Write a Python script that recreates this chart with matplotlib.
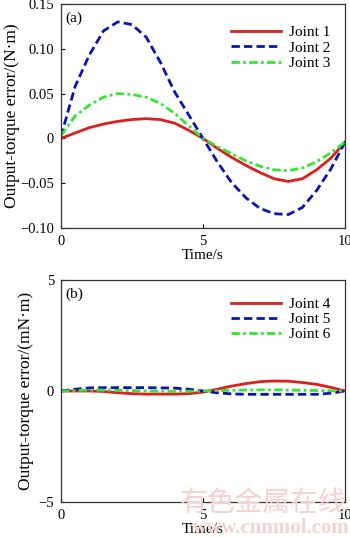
import matplotlib
matplotlib.use("Agg")
import matplotlib.pyplot as plt

plt.rcParams['font.family'] = ['Liberation Serif', 'DejaVu Serif']
plt.rcParams['font.size'] = 10.5
plt.rcParams['axes.unicode_minus'] = True

t = [0, 0.5, 1, 1.5, 2, 2.5, 3, 3.5, 4, 4.5, 5, 5.5, 6, 6.5, 7, 7.5, 8, 8.5, 9, 9.5, 10]

# (a) joints 1-3, N·m
joint1 = [0.0, 0.006, 0.012, 0.016, 0.019, 0.021, 0.022, 0.021, 0.017, 0.009, 0.0,
          -0.011, -0.021, -0.030, -0.038, -0.045, -0.048, -0.045, -0.035, -0.022, -0.004]
joint2 = [0.002, 0.058, 0.093, 0.120, 0.130, 0.127, 0.113, 0.085, 0.052, 0.026, 0.0,
          -0.026, -0.049, -0.066, -0.078, -0.084, -0.085, -0.077, -0.058, -0.034, -0.004]
joint3 = [0.003, 0.025, 0.037, 0.046, 0.050, 0.049, 0.046, 0.039, 0.028, 0.014, 0.0,
          -0.009, -0.017, -0.025, -0.031, -0.035, -0.036, -0.033, -0.026, -0.016, -0.004]

# (b) joints 4-6, mN·m
joint4 = [0.0, 0.0, 0.0, -0.02, -0.08, -0.12, -0.14, -0.14, -0.14, -0.12, -0.05,
          0.08, 0.22, 0.33, 0.42, 0.45, 0.44, 0.38, 0.30, 0.16, 0.0]
joint5 = [0.0, 0.08, 0.14, 0.15, 0.15, 0.15, 0.15, 0.14, 0.13, 0.08, 0.0,
          -0.08, -0.13, -0.15, -0.15, -0.15, -0.15, -0.15, -0.15, -0.10, 0.0]
joint6 = [0.0, 0.02, 0.04, 0.04, 0.03, 0.02, 0.0, -0.01, -0.02, -0.01, 0.0,
          0.02, 0.03, 0.04, 0.05, 0.05, 0.04, 0.03, 0.02, 0.01, 0.0]

yticks_a = [-0.10, -0.05, 0, 0.05, 0.10, 0.15]
ylabels_a = ['\u22120.10', '\u22120.05', '0', '0.05', '0.10', '0.15']
yticks_b = [-5, 0, 5]
ylabels_b = ['\u22125', '0', '5']
xticks = [0, 5, 10]

red = '#dc1e1e'
blue = '#0a14b4'
green = '#32e632'

fig = plt.figure(figsize=(3.5, 5.37), dpi=100)
ax1 = fig.add_axes([0.174, 0.5754, 0.812, 0.4172])
ax2 = fig.add_axes([0.174, 0.0652, 0.812, 0.4134])


def style(ax):
    ax.set_xlim(0, 10)
    ax.set_xticks(xticks)
    ax.tick_params(direction='in', length=3, width=0.8, top=False, right=False, pad=5)
    for s in ax.spines.values():
        s.set_linewidth(0.9)
        s.set_color('#333333')
    ax.set_xlabel('Time/s', labelpad=1, fontsize=11)


leg_kw = dict(loc='upper right', frameon=False, handlelength=3.3, handletextpad=0.5,
              labelspacing=0.1, borderaxespad=0.0, fontsize=11)

ax1.plot(t, joint1, color=red, lw=2.0, ls='-', label='Joint 1')
ax1.plot(t, joint2, color=blue, lw=2.0, ls=(0, (3, 1.5)), label='Joint 2')
ax1.plot(t, joint3, color=green, lw=2.0, ls=(0, (3, 1.2, 1, 1.2)), label='Joint 3')
ax1.set_ylim(-0.10, 0.15)
ax1.set_yticks(yticks_a, ylabels_a)
ax1.set_ylabel('Output-torque error/(N\u00b7m)', labelpad=0, fontsize=12.5)
ax1.text(0.015, 0.965, '(a)', transform=ax1.transAxes, ha='left', va='top', fontsize=11)
style(ax1)
ax1.legend(bbox_to_anchor=(0.97, 0.93), **leg_kw)

ax2.plot(t, joint4, color=red, lw=2.0, ls='-', label='Joint 4')
ax2.plot(t, joint5, color=blue, lw=2.0, ls=(0, (3, 1.5)), label='Joint 5')
ax2.plot(t, joint6, color=green, lw=2.0, ls=(0, (3, 1.2, 1, 1.2)), label='Joint 6')
ax2.set_ylim(-5, 5)
ax2.set_yticks(yticks_b, ylabels_b)
ax2.set_ylabel('Output-torque error/(mN\u00b7m)', labelpad=3, fontsize=12.5)
ax2.text(0.015, 0.965, '(b)', transform=ax2.transAxes, ha='left', va='top', fontsize=11)
style(ax2)
ax2.legend(bbox_to_anchor=(0.97, 0.95), **leg_kw)

# watermark
fig.text(0.99, 0.063, '有色金属在线', ha='right', va='center', fontsize=20,
         color='#f5d2d2', family=['Noto Sans CJK SC', 'DejaVu Sans'], zorder=10)
fig.text(1.0, 0.017, 'www.cnnmol.com', ha='right', va='center', fontsize=15,
         color='#f5d2d2', fontweight='bold', zorder=10)

fig.savefig('out.png', dpi=100)
